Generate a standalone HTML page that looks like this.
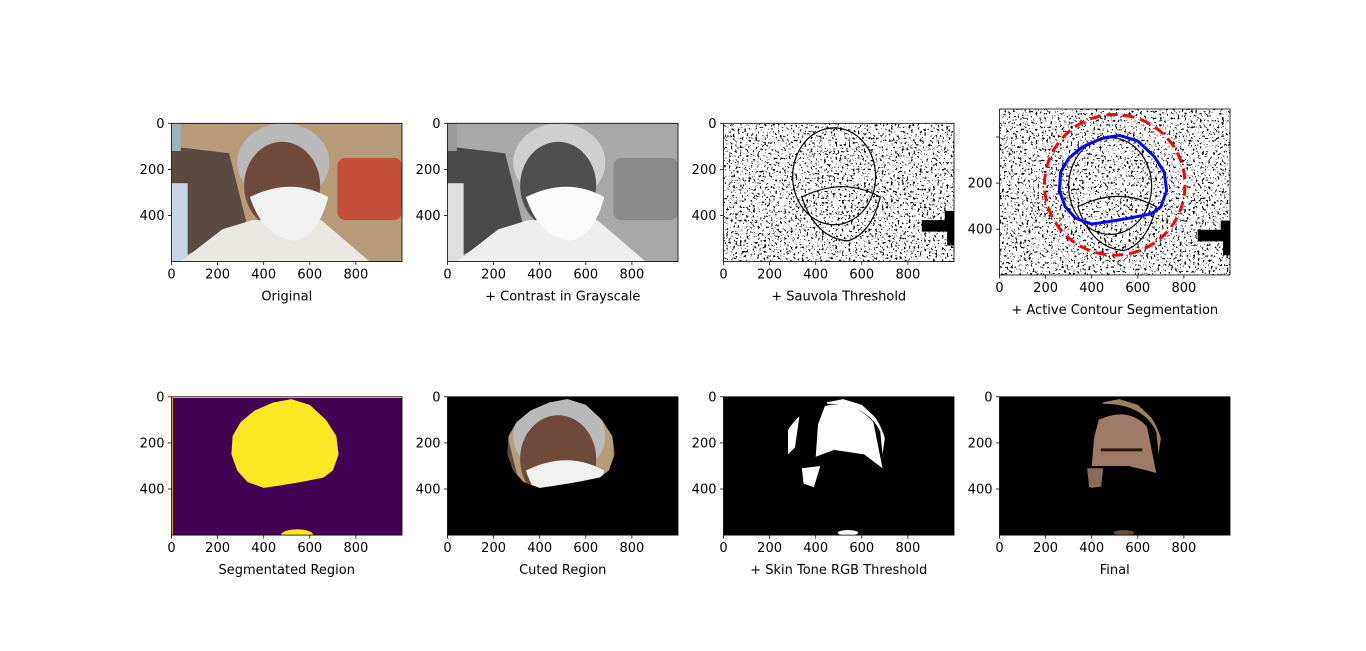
<!DOCTYPE html>
<html><head><meta charset="utf-8"><style>
html,body{margin:0;padding:0;background:#fff;}
svg{display:block;font-family:"DejaVu Sans","Liberation Sans",sans-serif;}
</style></head><body>
<svg id="fig" width="1366" height="651" viewBox="0 0 1366 651" xmlns="http://www.w3.org/2000/svg">
<defs>
<filter id="noise" x="0" y="0" width="100%" height="100%">
<feTurbulence type="fractalNoise" baseFrequency="0.45" numOctaves="2" seed="3"/>
<feColorMatrix type="matrix" values="0 0 0 0 0  0 0 0 0 0  0 0 0 0 0  -9 0 0 0 3.75"/>
<feComponentTransfer><feFuncA type="discrete" tableValues="0 1"/></feComponentTransfer>
</filter>
</defs>
</svg>
<script>
const NS='http://www.w3.org/2000/svg';
const svg=document.getElementById('fig');
// ---- data ----
const xTicks=[0,200,400,600,800];
const yTicks=[0,200,400];
const imgW=1000, imgH=600;
const titles=['Original','+ Contrast in Grayscale','+ Sauvola Threshold','+ Active Contour Segmentation','Segmentated Region','Cuted Region','+ Skin Tone RGB Threshold','Final'];
const contourX=[520,600,670,715,725,700,660,560,470,400,330,285,260,265,300,360,440];
const contourY=[10,35,100,170,250,320,350,370,385,395,370,320,250,170,110,60,25];
const circleCx=500, circleCy=225, circleR=305;
// ---- layout ----
const S=0.2305;
const panels=[
 {x:171.5,top:123.3,y0:123.3,ty0:123.3,h:600},
 {x:447.5,top:123.3,y0:123.3,ty0:123.3,h:600},
 {x:723.5,top:123.3,y0:123.3,ty0:123.3,h:600},
 {x:999.5,top:109,y0:133,ty0:137,h:720},
 {x:171.5,top:396.8,y0:396.8,ty0:396.8,h:600},
 {x:447.5,top:396.8,y0:396.8,ty0:396.8,h:600},
 {x:723.5,top:396.8,y0:396.8,ty0:396.8,h:600},
 {x:999.5,top:396.8,y0:396.8,ty0:396.8,h:600}];
function el(tag,attrs,parent){const e=document.createElementNS(NS,tag);for(const k in attrs)e.setAttribute(k,attrs[k]);(parent||svg).appendChild(e);return e;}
function blobPath(p){let d='';for(let i=0;i<contourX.length;i++){d+=(i?'L':'M')+p.sx(contourX[i])+','+p.sy(contourY[i]);}return d+'Z';}
function photo(g,p,gray){
  const c=gray?{bg:'#a8a8a8',l:'#4a4a4a',r:'#8a8a8a',skin:'#4f4f4f',hair:'#cfcfcf',shirt:'#eeeeee',mask:'#fafafa'}:
    {bg:'#b59b78',l:'#5b4a42',r:'#c4503a',skin:'#6e4a3b',hair:'#b9b9b9',shirt:'#ebe8e4',mask:'#f1f1f1'};
  el('rect',{x:p.sx(0),y:p.sy(0),width:imgW*S,height:imgH*S,fill:c.bg},g);
  el('path',{d:`M${p.sx(0)},${p.sy(100)} L${p.sx(250)},${p.sy(130)} L${p.sx(330)},${p.sy(450)} L${p.sx(0)},${p.sy(600)}Z`,fill:c.l},g);
  el('rect',{x:p.sx(0),y:p.sy(0),width:40*S,height:120*S,fill:gray?'#9a9a9a':'#9fb3bf'},g);
  el('rect',{x:p.sx(0),y:p.sy(260),width:70*S,height:340*S,fill:gray?'#dedede':'#c9d5e2'},g);
  el('rect',{x:p.sx(720),y:p.sy(150),width:280*S,height:270*S,fill:c.r,rx:8},g);
  el('ellipse',{cx:p.sx(485),cy:p.sy(170),rx:200*S,ry:170*S,fill:c.hair},g);
  el('ellipse',{cx:p.sx(480),cy:p.sy(270),rx:165*S,ry:190*S,fill:c.skin},g);
  el('path',{d:`M${p.sx(40)},${p.sy(600)} L${p.sx(220)},${p.sy(460)} L${p.sx(350)},${p.sy(420)} L${p.sx(650)},${p.sy(420)} L${p.sx(860)},${p.sy(600)}Z`,fill:c.shirt},g);
  el('path',{d:`M${p.sx(340)},${p.sy(320)} Q${p.sx(520)},${p.sy(230)} ${p.sx(680)},${p.sy(320)} Q${p.sx(640)},${p.sy(480)} ${p.sx(540)},${p.sy(510)} Q${p.sx(400)},${p.sy(500)} ${p.sx(340)},${p.sy(320)}Z`,fill:c.mask},g);
}
panels.forEach((p,i)=>{
  p.sx=v=>p.x+v*S; p.sy=v=>p.y0+v*S; p.ty=v=>p.ty0+v*S;
  const w=imgW*S, h=p.h*S;
  const ax=el('g',{});
  
  
  const cp=el('clipPath',{id:'cp'+i},ax); el('rect',{x:p.x,y:p.top,width:w,height:h},cp);
  const g=el('g',{'clip-path':`url(#cp${i})`},ax);
  
  
  el('rect',{x:p.x,y:p.top,width:w,height:h,fill:'#fff'},g);
  if(i===0||i===1) photo(g,p,i===1);
  if(i===2||i===3){
    el('rect',{x:p.x,y:p.top,width:w,height:h,fill:'#fff',filter:'url(#noise)'},g);
    const st={fill:'none',stroke:'#000','stroke-width':1.2};
    el('ellipse',Object.assign({cx:p.sx(480),cy:p.sy(230),rx:180*S,ry:210*S},st),g);
    el('path',Object.assign({d:`M${p.sx(340)},${p.sy(320)} Q${p.sx(520)},${p.sy(230)} ${p.sx(680)},${p.sy(320)} Q${p.sx(640)},${p.sy(480)} ${p.sx(540)},${p.sy(510)} Q${p.sx(400)},${p.sy(500)} ${p.sx(340)},${p.sy(320)}Z`},st),g);
    el('path',{d:`M${p.sx(860)},${p.sy(420)} h${100*S} v${-40*S} h${40*S} v${150*S} h${-30*S} v${-60*S} h${-110*S}Z`,fill:'#000'},g);
  }
  if(i===3){
    const c=el('circle',{cx:p.sx(circleCx),cy:p.sy(circleCy),r:circleR*S,fill:'none',stroke:'#ff0000','stroke-width':3,'stroke-dasharray':'11,6'},g);
    
    
    const b=el('path',{d:blobPath(p),fill:'none',stroke:'#0000ff','stroke-width':3,'stroke-linejoin':'round'},g);
    
    
  }
  if(i===4){
    el('rect',{x:p.x,y:p.top,width:w,height:h,fill:'#440154'},g);
    el('path',{d:blobPath(p),fill:'#fde725'},g);
    el('rect',{x:p.x,y:p.top,width:w,height:1.2,fill:'#fde725'},g);
    el('rect',{x:p.x,y:p.top,width:1.2,height:h,fill:'#fde725'},g);
    el('ellipse',{cx:p.sx(545),cy:p.sy(600),rx:70*S,ry:25*S,fill:'#fde725'},g);
  }
  if(i>=5){
    el('rect',{x:p.x,y:p.top,width:w,height:h,fill:'#000'},g);
    const cc=el('clipPath',{id:'bl'+i},ax); el('path',{d:blobPath(p)},cc);
    const inner=el('g',{'clip-path':`url(#bl${i})`},g);
    if(i===5) photo(inner,p,false);
    if(i===6){
      el('path',{d:`M${p.sx(440)},${p.sy(40)} Q${p.sx(560)},${p.sy(10)} ${p.sx(650)},${p.sy(110)} L${p.sx(690)},${p.sy(310)} L${p.sx(610)},${p.sy(250)} L${p.sx(480)},${p.sy(230)} L${p.sx(400)},${p.sy(260)} L${p.sx(410)},${p.sy(120)}Z`,fill:'#fff'},inner);
      el('path',{d:`M${p.sx(440)},${p.sy(10)} Q${p.sx(640)},${p.sy(-20)} ${p.sx(700)},${p.sy(180)} L${p.sx(690)},${p.sy(250)} L${p.sx(680)},${p.sy(150)} Q${p.sx(620)},${p.sy(30)} ${p.sx(450)},${p.sy(30)}Z`,fill:'#fff'},inner);
      el('path',{d:`M${p.sx(280)},${p.sy(140)} L${p.sx(330)},${p.sy(80)} L${p.sx(310)},${p.sy(220)} L${p.sx(280)},${p.sy(250)}Z`,fill:'#fff'},inner);
      el('path',{d:`M${p.sx(340)},${p.sy(310)} L${p.sx(420)},${p.sy(300)} L${p.sx(390)},${p.sy(400)} L${p.sx(350)},${p.sy(400)}Z`,fill:'#fff'},inner);
      el('ellipse',{cx:p.sx(540),cy:p.sy(590),rx:45*S,ry:12*S,fill:'#fff'},g);
    }
    if(i===7){
      el('path',{d:`M${p.sx(430)},${p.sy(100)} Q${p.sx(560)},${p.sy(40)} ${p.sx(640)},${p.sy(130)} L${p.sx(680)},${p.sy(330)} L${p.sx(560)},${p.sy(300)} L${p.sx(400)},${p.sy(300)} L${p.sx(410)},${p.sy(180)}Z`,fill:'#a07a68'},inner);
      el('path',{d:`M${p.sx(380)},${p.sy(310)} L${p.sx(450)},${p.sy(310)} L${p.sx(440)},${p.sy(400)} L${p.sx(390)},${p.sy(400)}Z`,fill:'#8a6a5a'},inner);
      el('path',{d:`M${p.sx(440)},${p.sy(230)} L${p.sx(620)},${p.sy(230)}`,stroke:'#2a1a14','stroke-width':3},inner);
      el('path',{d:`M${p.sx(440)},${p.sy(10)} Q${p.sx(640)},${p.sy(-20)} ${p.sx(700)},${p.sy(180)} L${p.sx(690)},${p.sy(250)} L${p.sx(680)},${p.sy(150)} Q${p.sx(620)},${p.sy(30)} ${p.sx(450)},${p.sy(30)}Z`,fill:'#9a8060'},inner);
      el('ellipse',{cx:p.sx(540),cy:p.sy(590),rx:45*S,ry:12*S,fill:'#6a4a3a'},g);
    }
  }
  // frame
  el('rect',{x:p.x,y:p.top,width:w,height:h,fill:'none',stroke:'#000','stroke-width':0.8},ax);
  // ticks
  const bottom=p.top+h;
  xTicks.forEach(t=>{
    const X=p.sx(t);
    el('line',{x1:X,x2:X,y1:bottom,y2:bottom+3.5,stroke:'#000','stroke-width':0.8},ax);
    const tx=el('text',{x:X,y:bottom+17,'font-size':13,'text-anchor':'middle',fill:'#000'},ax);tx.textContent=t;
  });
  yTicks.forEach(t=>{
    const Y=p.ty(t);
    el('line',{x1:p.x-3.5,x2:p.x,y1:Y,y2:Y,stroke:'#000','stroke-width':0.8},ax);
    const ty=el('text',{x:p.x-7,y:Y+4.5,'font-size':13,'text-anchor':'end',fill:'#000'},ax);ty.textContent=(i===3&&t===0)?'':t;
  });
  const tl=el('text',{x:p.x+w/2,y:bottom+39,'font-size':13,'text-anchor':'middle',fill:'#000'},ax);
  tl.textContent=titles[i];
  
  
});
</script>
</body></html>
